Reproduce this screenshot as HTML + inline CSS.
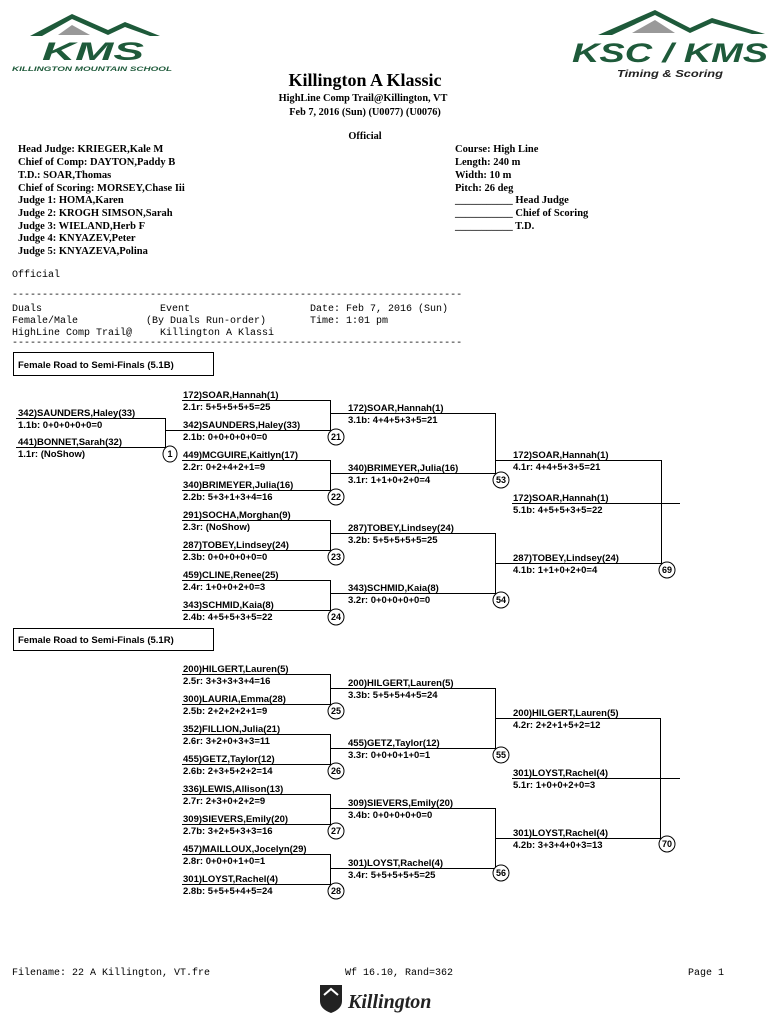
<!DOCTYPE html>
<html><head><meta charset="utf-8"><style>
html,body{margin:0;padding:0;background:#fff;}
svg{display:block;}
.s{font-family:"Liberation Serif",serif;font-weight:bold;fill:#000;}
.b{font-family:"Liberation Sans",sans-serif;font-weight:bold;font-size:9.5px;fill:#000;}
.m{font-family:"Liberation Mono",monospace;font-size:10px;fill:#000;}
.l{stroke:#000;stroke-width:1;fill:none;}
.c{stroke:#000;stroke-width:1;fill:#fff;}
</style></head><body>
<svg width="770" height="1024" viewBox="0 0 770 1024" xmlns="http://www.w3.org/2000/svg">
<!-- KMS logo -->
<polygon points="30,36 72,14 108,30 125,22 160,36 150,36 125,27 108,35 72,19 42,36" fill="#1e5a3a"/>
<polygon points="58,35 72,25 90,35" fill="#999"/>
<text x="42" y="60" font-family="Liberation Sans,sans-serif" font-weight="bold" font-style="italic" font-size="25" fill="#1e5a3a" textLength="102" lengthAdjust="spacingAndGlyphs">KMS</text>
<text x="12" y="71" font-family="Liberation Sans,sans-serif" font-weight="bold" font-style="italic" font-size="6" fill="#1e5a3a" textLength="160" lengthAdjust="spacingAndGlyphs">KILLINGTON MOUNTAIN SCHOOL</text>
<!-- KSC/KMS logo -->
<polygon points="598,35 655,10 690,28 712,18 765,34 752,34 712,23 690,33 655,15 612,35" fill="#1e5a3a"/>
<polygon points="632,33 655,20 675,33" fill="#999"/>
<text x="572" y="62" font-family="Liberation Sans,sans-serif" font-weight="bold" font-style="italic" font-size="27" fill="#1e5a3a" textLength="196" lengthAdjust="spacingAndGlyphs">KSC / KMS</text>
<text x="617" y="77" font-family="Liberation Sans,sans-serif" font-weight="bold" font-style="italic" font-size="10" fill="#222" textLength="106" lengthAdjust="spacingAndGlyphs">Timing &amp; Scoring</text>
<!-- title -->
<text class="s" x="365" y="86" text-anchor="middle" font-size="18">Killington A Klassic</text>
<text class="s" x="363" y="101" text-anchor="middle" font-size="10.3">HighLine Comp Trail@Killington, VT</text>
<text class="s" x="365" y="115" text-anchor="middle" font-size="10.3">Feb 7, 2016 (Sun) (U0077) (U0076)</text>
<text class="s" x="365" y="139" text-anchor="middle" font-size="10.3">Official</text>
<g class="s" font-size="10.5">
<text x="18" y="152">Head Judge: KRIEGER,Kale M</text>
<text x="18" y="165">Chief of Comp: DAYTON,Paddy B</text>
<text x="18" y="178">T.D.: SOAR,Thomas</text>
<text x="18" y="191">Chief of Scoring: MORSEY,Chase Iii</text>
<text x="18" y="203">Judge 1: HOMA,Karen</text>
<text x="18" y="216">Judge 2: KROGH SIMSON,Sarah</text>
<text x="18" y="229">Judge 3: WIELAND,Herb F</text>
<text x="18" y="241">Judge 4: KNYAZEV,Peter</text>
<text x="18" y="254">Judge 5: KNYAZEVA,Polina</text>
<text x="455" y="152">Course: High Line</text>
<text x="455" y="165">Length: 240 m</text>
<text x="455" y="178">Width: 10 m</text>
<text x="455" y="191">Pitch: 26 deg</text>
<text x="455" y="203">___________ Head Judge</text>
<text x="455" y="216">___________ Chief of Scoring</text>
<text x="455" y="229">___________ T.D.</text>
</g>
<g class="m">
<text x="12" y="277">Official</text>
<text x="12" y="297">---------------------------------------------------------------------------</text>
<text x="12" y="311">Duals</text><text x="160" y="311">Event</text><text x="310" y="311">Date: Feb 7, 2016 (Sun)</text>
<text x="12" y="323">Female/Male</text><text x="146" y="323">(By Duals Run-order)</text><text x="310" y="323">Time: 1:01 pm</text>
<text x="12" y="335">HighLine Comp Trail@</text><text x="160" y="335">Killington A Klassi</text>
<text x="12" y="345">---------------------------------------------------------------------------</text>
</g>
<!-- Bracket 1 -->
<rect x="13.5" y="352.5" width="200" height="23" class="l"/>
<text class="b" x="18" y="368">Female Road to Semi-Finals (5.1B)</text>
<g class="b">
<text x="18" y="416">342)SAUNDERS,Haley(33)</text><text x="18" y="428">1.1b: 0+0+0+0+0=0</text>
<text x="18" y="445">441)BONNET,Sarah(32)</text><text x="18" y="457">1.1r: (NoShow)</text>
<text x="183" y="398">172)SOAR,Hannah(1)</text><text x="183" y="410">2.1r: 5+5+5+5+5=25</text>
<text x="183" y="428">342)SAUNDERS,Haley(33)</text><text x="183" y="440">2.1b: 0+0+0+0+0=0</text>
<text x="183" y="458">449)MCGUIRE,Kaitlyn(17)</text><text x="183" y="470">2.2r: 0+2+4+2+1=9</text>
<text x="183" y="488">340)BRIMEYER,Julia(16)</text><text x="183" y="500">2.2b: 5+3+1+3+4=16</text>
<text x="183" y="518">291)SOCHA,Morghan(9)</text><text x="183" y="530">2.3r: (NoShow)</text>
<text x="183" y="548">287)TOBEY,Lindsey(24)</text><text x="183" y="560">2.3b: 0+0+0+0+0=0</text>
<text x="183" y="578">459)CLINE,Renee(25)</text><text x="183" y="590">2.4r: 1+0+0+2+0=3</text>
<text x="183" y="608">343)SCHMID,Kaia(8)</text><text x="183" y="620">2.4b: 4+5+5+3+5=22</text>
<text x="348" y="411">172)SOAR,Hannah(1)</text><text x="348" y="423">3.1b: 4+4+5+3+5=21</text>
<text x="348" y="471">340)BRIMEYER,Julia(16)</text><text x="348" y="483">3.1r: 1+1+0+2+0=4</text>
<text x="348" y="531">287)TOBEY,Lindsey(24)</text><text x="348" y="543">3.2b: 5+5+5+5+5=25</text>
<text x="348" y="591">343)SCHMID,Kaia(8)</text><text x="348" y="603">3.2r: 0+0+0+0+0=0</text>
<text x="513" y="458">172)SOAR,Hannah(1)</text><text x="513" y="470">4.1r: 4+4+5+3+5=21</text>
<text x="513" y="501">172)SOAR,Hannah(1)</text><text x="513" y="513">5.1b: 4+5+5+3+5=22</text>
<text x="513" y="561">287)TOBEY,Lindsey(24)</text><text x="513" y="573">4.1b: 1+1+0+2+0=4</text>
</g>
<g class="l">
<path d="M16 418.5H165.5V447.5H16M165.5 430.5H182"/>
<path d="M182 400.5H330.5V430.5H182M330.5 413.5H347"/>
<path d="M182 460.5H330.5V490.5H182M330.5 473.5H347"/>
<path d="M182 520.5H330.5V550.5H182M330.5 533.5H347"/>
<path d="M182 580.5H330.5V610.5H182M330.5 593.5H347"/>
<path d="M347 413.5H495.5V473.5H347M495.5 460.5H512"/>
<path d="M347 533.5H495.5V593.5H347M495.5 563.5H512"/>
<path d="M512 460.5H661.5V563.5H512"/>
<path d="M512 503.5H680"/>
</g>
<!-- Bracket 2 -->
<rect x="13.5" y="628.5" width="200" height="22" class="l"/>
<text class="b" x="18" y="643">Female Road to Semi-Finals (5.1R)</text>
<g class="b">
<text x="183" y="672">200)HILGERT,Lauren(5)</text><text x="183" y="684">2.5r: 3+3+3+3+4=16</text>
<text x="183" y="702">300)LAURIA,Emma(28)</text><text x="183" y="714">2.5b: 2+2+2+2+1=9</text>
<text x="183" y="732">352)FILLION,Julia(21)</text><text x="183" y="744">2.6r: 3+2+0+3+3=11</text>
<text x="183" y="762">455)GETZ,Taylor(12)</text><text x="183" y="774">2.6b: 2+3+5+2+2=14</text>
<text x="183" y="792">336)LEWIS,Allison(13)</text><text x="183" y="804">2.7r: 2+3+0+2+2=9</text>
<text x="183" y="822">309)SIEVERS,Emily(20)</text><text x="183" y="834">2.7b: 3+2+5+3+3=16</text>
<text x="183" y="852">457)MAILLOUX,Jocelyn(29)</text><text x="183" y="864">2.8r: 0+0+0+1+0=1</text>
<text x="183" y="882">301)LOYST,Rachel(4)</text><text x="183" y="894">2.8b: 5+5+5+4+5=24</text>
<text x="348" y="686">200)HILGERT,Lauren(5)</text><text x="348" y="698">3.3b: 5+5+5+4+5=24</text>
<text x="348" y="746">455)GETZ,Taylor(12)</text><text x="348" y="758">3.3r: 0+0+0+1+0=1</text>
<text x="348" y="806">309)SIEVERS,Emily(20)</text><text x="348" y="818">3.4b: 0+0+0+0+0=0</text>
<text x="348" y="866">301)LOYST,Rachel(4)</text><text x="348" y="878">3.4r: 5+5+5+5+5=25</text>
<text x="513" y="716">200)HILGERT,Lauren(5)</text><text x="513" y="728">4.2r: 2+2+1+5+2=12</text>
<text x="513" y="776">301)LOYST,Rachel(4)</text><text x="513" y="788">5.1r: 1+0+0+2+0=3</text>
<text x="513" y="836">301)LOYST,Rachel(4)</text><text x="513" y="848">4.2b: 3+3+4+0+3=13</text>
</g>
<g class="l">
<path d="M182 674.5H330.5V704.5H182M330.5 688.5H347"/>
<path d="M182 734.5H330.5V764.5H182M330.5 748.5H347"/>
<path d="M182 794.5H330.5V824.5H182M330.5 808.5H347"/>
<path d="M182 854.5H330.5V884.5H182M330.5 868.5H347"/>
<path d="M347 688.5H495.5V748.5H347M495.5 718.5H512"/>
<path d="M347 808.5H495.5V868.5H347M495.5 838.5H512"/>
<path d="M512 718.5H660.5V838.5H512"/>
<path d="M512 778.5H680"/>
</g>
<!-- circles -->
<g class="c">
<ellipse cx="170" cy="454" rx="7" ry="8"/>
<ellipse cx="336" cy="437" rx="8" ry="8"/><ellipse cx="336" cy="497" rx="8" ry="8"/>
<ellipse cx="336" cy="557" rx="8" ry="8"/><ellipse cx="336" cy="617" rx="8" ry="8"/>
<ellipse cx="501" cy="480" rx="8" ry="8"/><ellipse cx="501" cy="600" rx="8" ry="8"/>
<ellipse cx="667" cy="570" rx="8" ry="8"/>
<ellipse cx="336" cy="711" rx="8" ry="8"/><ellipse cx="336" cy="771" rx="8" ry="8"/>
<ellipse cx="336" cy="831" rx="8" ry="8"/><ellipse cx="336" cy="891" rx="8" ry="8"/>
<ellipse cx="501" cy="755" rx="8" ry="8"/><ellipse cx="501" cy="873" rx="8" ry="8"/>
<ellipse cx="667" cy="844" rx="8" ry="8"/>
</g>
<g class="b" text-anchor="middle" style="font-size:9px">
<text x="170" y="457">1</text>
<text x="336" y="440">21</text><text x="336" y="500">22</text><text x="336" y="560">23</text><text x="336" y="620">24</text>
<text x="501" y="483">53</text><text x="501" y="603">54</text><text x="667" y="573">69</text>
<text x="336" y="714">25</text><text x="336" y="774">26</text><text x="336" y="834">27</text><text x="336" y="894">28</text>
<text x="501" y="758">55</text><text x="501" y="876">56</text><text x="667" y="847">70</text>
</g>
<!-- footer -->
<g class="m">
<text x="12" y="975">Filename: 22 A Killington, VT.fre</text>
<text x="345" y="975">Wf 16.10, Rand=362</text>
<text x="688" y="975">Page 1</text>
</g>
<path d="M320 985h22v16q0 8-11 12q-11-4-11-12z" fill="#222"/>
<path d="M324 995l7-6l7 6" stroke="#fff" stroke-width="2" fill="none"/>
<text x="348" y="1008" font-family="Liberation Serif,serif" font-style="italic" font-weight="bold" font-size="20" fill="#222">Killington</text>
</svg>
</body></html>
